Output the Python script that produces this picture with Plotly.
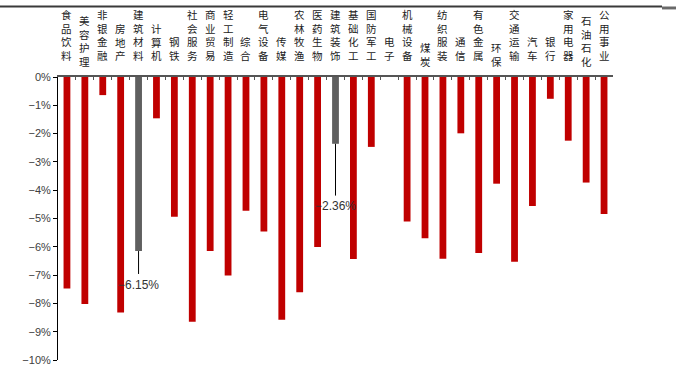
import plotly.graph_objects as go

categories = ["食品饮料", "美容护理", "非银金融", "房地产", "建筑材料", "计算机", "钢铁",
              "社会服务", "商业贸易", "轻工制造", "综合", "电气设备", "传媒", "农林牧渔",
              "医药生物", "建筑装饰", "基础化工", "国防军工", "电子", "机械设备", "煤炭",
              "纺织服装", "通信", "有色金属", "环保", "交通运输", "汽车", "银行",
              "家用电器", "石油石化", "公用事业"]
values = [-7.47, -8.02, -0.64, -8.32, -6.15, -1.46, -4.94,
          -8.65, -6.15, -7.01, -4.73, -5.46, -8.58, -7.61,
          -6.01, -2.36, -6.43, -2.47, 0.5, -5.11, -5.70,
          -6.42, -1.99, -6.22, -3.77, -6.53, -4.56, -0.77,
          -2.25, -3.73, -4.84]
highlight = ["建筑材料", "建筑装饰"]
ytick_vals = [0, -1, -2, -3, -4, -5, -6, -7, -8, -9, -10]
ytick_text = ["0%", "−1%", "−2%", "−3%", "−4%", "−5%", "−6%", "−7%", "−8%", "−9%", "−10%"]
shifted_labels = ["美容护理", "煤炭", "环保", "石油石化"]

RED = "#C00000"
GREY = "#5F5F5F"

W, H = 676, 376
L, R, T, B = 58, 63, 77, 10
PH = H - T - B
PW = W - L - R

colors = [GREY if c in highlight else RED for c in categories]

fig = go.Figure()
fig.add_trace(go.Bar(
    x=categories, y=values, marker=dict(color=colors, line=dict(width=0)),
    width=0.38, hoverinfo="x+y", cliponaxis=True,
))

def py2paper(py):
    return 1 + (T - py) / PH

def px2paper(px):
    return (px - L) / PW

annotations = []
# vertical category labels, one character per line
for c in categories:
    bottom = 63.5 + (6 if c in shifted_labels else 0)
    annotations.append(dict(
        x=c, xref="x", y=py2paper(bottom), yref="paper", text="<br>".join(c),
        showarrow=False, xanchor="center", yanchor="bottom", borderpad=0,
        font=dict(family="Noto Sans CJK SC", size=10.5, color="#222222"),
    ))

# data labels for highlighted bars
label_gap = {"建筑材料": (0.81, 1.19), "建筑装饰": (1.83, 2.21)}
shapes = []
for c, v in zip(categories, values):
    if c in highlight:
        line_len, text_off = label_gap[c]
        shapes.append(dict(type="line", xref="x", yref="y", x0=c, x1=c,
                           y0=v, y1=v - line_len, line=dict(color="#000000", width=1)))
        annotations.append(dict(
            x=c, xref="x", y=v - text_off, yref="y", text=f"−{abs(v):.2f}%",
            showarrow=False, xanchor="center", yanchor="middle",
            font=dict(family="Liberation Sans", size=12, color="#333333"),
        ))

# top decorative rule (clipped title area)
shapes.append(dict(type="line", xref="paper", yref="paper",
                   x0=px2paper(0), x1=px2paper(662), y0=py2paper(5), y1=py2paper(5),
                   line=dict(color="#3A3A3A", width=2)))
shapes.append(dict(type="rect", xref="paper", yref="paper",
                   x0=px2paper(662), x1=px2paper(676), y0=py2paper(8), y1=py2paper(5),
                   fillcolor="#6A6A6A", line=dict(width=0)))

fig.update_layout(
    width=W, height=H,
    margin=dict(l=L, r=R, t=T, b=B, pad=0),
    paper_bgcolor="white", plot_bgcolor="white",
    showlegend=False, bargap=0.6,
    annotations=annotations, shapes=shapes,
    xaxis=dict(
        type="category", side="top", showline=True, linecolor="#555555", linewidth=1.5,
        ticks="inside", ticklen=3, tickcolor="#555555", tickson="boundaries",
        showticklabels=False, showgrid=False, zeroline=False,
        range=[-0.5, len(categories) - 0.5],
    ),
    yaxis=dict(
        range=[-10, 0], tickvals=ytick_vals, ticktext=ytick_text,
        showline=True, linecolor="#000000", linewidth=1, ticks="outside", ticklen=4,
        tickcolor="#000000", showgrid=False, zeroline=False,
        tickfont=dict(family="Liberation Sans", size=11, color="#404040"),
    ),
    font=dict(family="Liberation Sans"),
)

fig.write_html("out.html")
